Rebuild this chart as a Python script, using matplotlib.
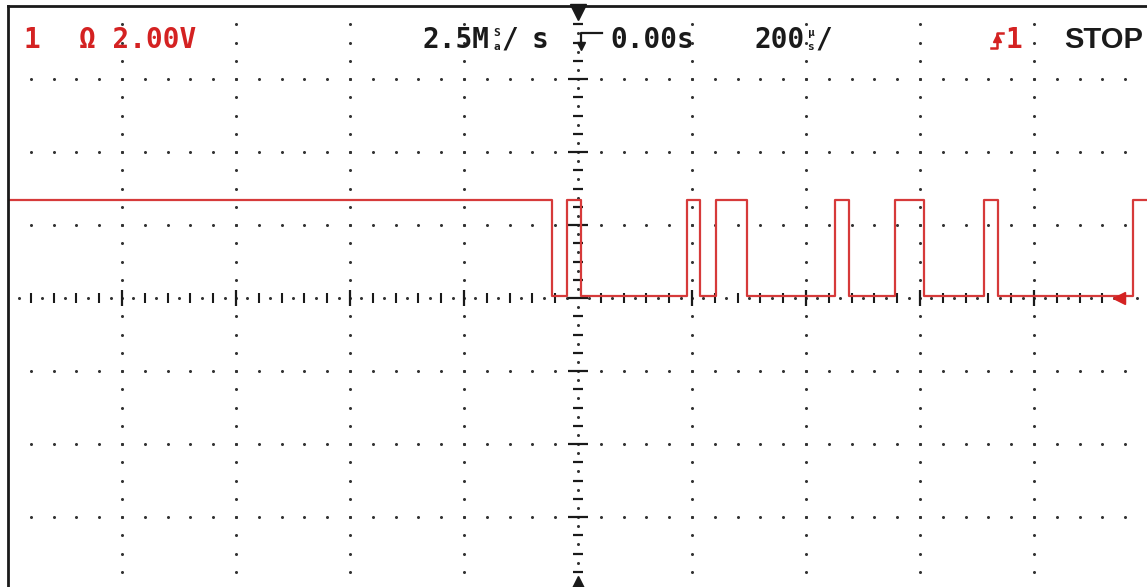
import numpy as np
import matplotlib
matplotlib.use('Agg')
import matplotlib.pyplot as plt
from matplotlib.lines import Line2D

W, H = 1147, 587

# scope settings: 200 us/div, 2 V/div, trigger at t = 0
time_us = [-1000, -46, -20, 5, 191, 214, 242, 296, 451, 476, 556, 607, 712, 737, 973, 1000]
volts = [2.68, 0.05, 2.68, 0.05, 2.68, 0.05, 2.68, 0.05, 2.68, 0.05, 2.68, 0.05, 2.68, 0.05, 2.68, 2.68]

RED = '#d42222'
TRACE = '#d63a3a'
INK = '#1a1a1a'


def fxy(x, y):
    # pixel position -> figure fraction
    return x / W, 1 - y / H


fig = plt.figure(figsize=(W / 100, H / 100), dpi=100)
fig.patch.set_facecolor('white')
ax = fig.add_axes([8 / W, (H - 590) / H, 1140 / W, 584 / H])
ax.set_xlim(-1000, 1000)
ax.set_ylim(-8, 8)
ax.set_xticks([])
ax.set_yticks([])
for s in ax.spines.values():
    s.set_linewidth(2)
    s.set_color(INK)

# dotted graticule
gx = np.arange(-960, 961, 40)
for gy in [-6, -4, -2, 2, 4, 6]:
    ax.plot(gx, np.full(len(gx), gy), 'o', ms=2.2, color='#333333', mew=0, zorder=1)
gy = np.arange(-7.5, 7.6, 0.5)
for x in [-800, -600, -400, -200, 200, 400, 600, 800]:
    ax.plot(np.full(len(gy), x), gy, 'o', ms=2.2, color='#333333', mew=0, zorder=1)

# centre horizontal axis
minor = [t for t in gx if t % 200 != 0]
major = [t for t in gx if t % 200 == 0 and t != 0]
ax.plot(minor, np.zeros(len(minor)), '|', ms=6.5, mew=1.5, color=INK, zorder=1)
ax.plot(major, np.zeros(len(major)), '|', ms=11.5, mew=1.6, color=INK, zorder=1)
half = np.arange(-980, 981, 40)
ax.plot(half, np.zeros(len(half)), 'o', ms=2.2, mew=0, color='#333333', zorder=1)

# centre vertical axis
vminor = [v for v in gy if v % 2 != 0]
vmajor = [v for v in gy if v % 2 == 0 and v != 0]
ax.plot(np.zeros(len(vminor)), vminor, '_', ms=7.5, mew=1.6, color=INK, zorder=1)
ax.plot(np.zeros(len(vmajor)), vmajor, '_', ms=15, mew=1.6, color=INK, zorder=1)
vhalf = np.arange(-7.75, 7.8, 0.5)
ax.plot(np.zeros(len(vhalf)), vhalf, 'o', ms=2.2, mew=0, color='#333333', zorder=1)
ax.plot([0], [0], '_', ms=15, mew=1.6, color=INK, zorder=1)

# trigger position markers
ax.plot([0], [7.83], 'v', ms=11, color=INK, clip_on=False, zorder=3)
ax.plot([0], [-7.83], '^', ms=11, color=INK, clip_on=False, zorder=3)

# trace
ax.step(time_us, volts, where='post', color=TRACE, lw=1.6, zorder=2)
ax.plot([949], [0], '<', ms=8, color=RED, zorder=3)

# header texts
mono = dict(family='DejaVu Sans Mono', weight='bold', fontsize=20, va='center')
fig.text(*fxy(24, 40), '1', color=RED, ha='left', **mono)
fig.text(*fxy(79, 40), 'Ω 2.00V', color=RED, ha='left', **mono)

fig.text(*fxy(423, 40), '2.5M', color=INK, ha='left', **mono)
small = dict(family='DejaVu Sans Mono', weight='bold', fontsize=8, ha='center', va='center', color=INK)
fig.text(*fxy(497, 33), 'S', **small)
fig.text(*fxy(497, 47), 'a', **small)
fig.text(*fxy(510, 40), '/', color=INK, ha='center', **mono)
fig.text(*fxy(540, 40), 's', color=INK, ha='center', **mono)

# trigger delay symbol
fig.add_artist(Line2D([602 / W, 581 / W, 581 / W], [1 - 33 / H, 1 - 33 / H, 1 - 44 / H],
                      color=INK, lw=1.6))
fig.add_artist(Line2D([581 / W], [1 - 46 / H], marker='v', ms=6, color=INK))
fig.text(*fxy(610, 40), '0.00s', color=INK, ha='left', **mono)

fig.text(*fxy(755, 40), '200', color=INK, ha='left', **mono)
fig.text(*fxy(811, 33), 'µ', **small)
fig.text(*fxy(811, 47), 's', **small)
fig.text(*fxy(824, 40), '/', color=INK, ha='center', **mono)

# trigger edge symbol
fig.add_artist(Line2D([991 / W, 997 / W, 997 / W, 1003 / W],
                      [1 - 48 / H, 1 - 48 / H, 1 - 33 / H, 1 - 33 / H], color=RED, lw=1.8))
fig.add_artist(Line2D([997 / W], [1 - 38 / H], marker='^', ms=6, color=RED))
fig.text(*fxy(1014, 40), '1', color=RED, ha='center', **mono)

fig.text(*fxy(1064, 40), 'STOP', color=INK, ha='left', va='center',
         family='Liberation Sans', weight='bold', fontsize=21)

fig.savefig('out.png', dpi=100, facecolor='white')
